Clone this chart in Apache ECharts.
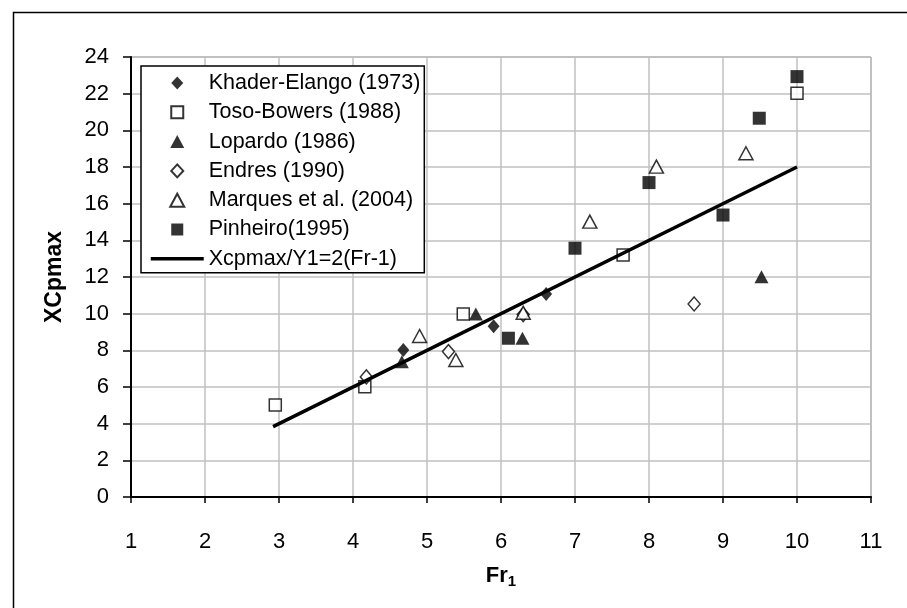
<!DOCTYPE html>
<html><head><meta charset="utf-8">
<script src="https://cdn.jsdelivr.net/npm/echarts@6/dist/echarts.min.js"></script>
<style>html,body{margin:0;padding:0;background:#fff}#c{width:907px;height:608px}</style>
</head><body><div id="c"></div>
<script>
const khaderElango = [[4.68,8.02],[5.90,9.31],[6.61,11.07]];
const tosoBowers = [[2.95,5.02],[4.16,6.01],[5.49,9.98],[7.65,13.2],[10.0,22.02]];
const lopardo = [[4.66,7.38],[5.66,9.98],[6.29,8.66],[9.52,12.02]];
const endres = [[4.18,6.55],[5.29,7.93],[6.3,9.95],[8.61,10.53]];
const marques = [[4.9,8.78],[5.39,7.47],[6.3,10.05],[7.2,15.02],[8.1,18.02],[9.31,18.75]];
const pinheiro = [[6.1,8.66],[7.0,13.57],[8.0,17.15],[9.0,15.38],[9.49,20.66],[10.0,22.93]];
const fitLine = [[2.92,3.84],[10,18]];
const seriesNames = ['Khader-Elango (1973)','Toso-Bowers (1988)','Lopardo (1986)','Endres (1990)','Marques et al. (2004)','Pinheiro(1995)','Xcpmax/Y1=2(Fr-1)'];

const FONT = 'Liberation Sans, Arial, sans-serif';
const filled = {color:'#000', borderColor:'#000', borderWidth:0};
const open = {color:'#fff', borderColor:'#000', borderWidth:1.5};

// legend icons: marker centred inside a 53x13 frame (frame set by the two move-to points)
const FRAME = 'M0 0 M53 13 ';
const iconDiamond = 'path://' + FRAME + 'M26.5 0 L32.5 6.5 L26.5 13 L20.5 6.5 Z';
const iconSquare = 'path://' + FRAME + 'M20.5 0.5 L32.5 0.5 L32.5 12.5 L20.5 12.5 Z';
const iconTriangle = 'path://' + FRAME + 'M26.5 0 L33.5 13 L19.5 13 Z';

const chart = echarts.init(document.getElementById('c'), null, {renderer:'canvas'});
chart.setOption({
  animation:false,
  backgroundColor:'#fff',
  graphic:[{type:'rect', left:11, top:10, shape:{width:1000, height:1000}, style:{fill:'none', stroke:'#000', lineWidth:1.5}, z:-10}],
  grid:{left:131, right:36, top:57, bottom:111, show:true, borderColor:'#808080', borderWidth:1, backgroundColor:'transparent'},
  xAxis:{type:'value', min:1, max:11, interval:1,
    name:'{a|Fr}{b|1}', nameLocation:'middle', nameGap:66,
    nameTextStyle:{rich:{a:{fontFamily:FONT, fontSize:22, fontWeight:'bold', color:'#000'}, b:{fontFamily:FONT, fontSize:15, fontWeight:'bold', color:'#000', padding:[11,0,0,0]}}},
    axisLine:{lineStyle:{color:'#000', width:2}},
    axisTick:{show:true, length:6, lineStyle:{color:'#000', width:1.5}},
    axisLabel:{fontFamily:FONT, fontSize:22, color:'#000', margin:34},
    splitLine:{show:true, lineStyle:{color:'#c0c0c0', width:1.5}}
  },
  yAxis:{type:'value', min:0, max:24, interval:2,
    name:'XCpmax', nameLocation:'middle', nameGap:65, nameRotate:90,
    nameTextStyle:{fontFamily:FONT, fontSize:23, fontWeight:'bold', color:'#000'},
    axisLine:{show:true, lineStyle:{color:'#000', width:2}},
    axisTick:{show:true, length:8, lineStyle:{color:'#000', width:1.5}},
    axisLabel:{fontFamily:FONT, fontSize:22, color:'#000', margin:22},
    splitLine:{show:true, lineStyle:{color:'#c0c0c0', width:1.5}}
  },
  legend:{orient:'vertical', left:141, top:66, padding:[6,4,3,8],
    itemWidth:53, itemHeight:13, itemGap:7.3,
    borderColor:'#000', borderWidth:1.5, backgroundColor:'#fff',
    textStyle:{fontFamily:FONT, fontSize:21.5, color:'#000', lineHeight:20},
    data:[
      {name:seriesNames[0], icon:iconDiamond},
      {name:seriesNames[1], icon:iconSquare},
      {name:seriesNames[2], icon:iconTriangle},
      {name:seriesNames[3], icon:iconDiamond},
      {name:seriesNames[4], icon:iconTriangle},
      {name:seriesNames[5], icon:iconSquare},
      {name:seriesNames[6], itemStyle:{color:'rgba(0,0,0,0)', borderWidth:0, opacity:0}, lineStyle:{color:'#000', width:3.5}}
    ]},
  series:[
    {name:seriesNames[0], type:'scatter', symbol:'diamond', symbolSize:[12,14], data:khaderElango, itemStyle:filled},
    {name:seriesNames[1], type:'scatter', symbol:'rect', symbolSize:12, data:tosoBowers, itemStyle:open},
    {name:seriesNames[2], type:'scatter', symbol:'triangle', symbolSize:[14,13], data:lopardo, itemStyle:filled},
    {name:seriesNames[3], type:'scatter', symbol:'diamond', symbolSize:[12,14], data:endres, itemStyle:open},
    {name:seriesNames[4], type:'scatter', symbol:'triangle', symbolSize:[14,13], data:marques, itemStyle:open},
    {name:seriesNames[5], type:'scatter', symbol:'rect', symbolSize:13, data:pinheiro, itemStyle:filled},
    {name:seriesNames[6], type:'line', symbol:'none', data:fitLine, lineStyle:{color:'#000', width:3.5}, itemStyle:{color:'#000'}, z:3}
  ]
});
</script></body></html>
